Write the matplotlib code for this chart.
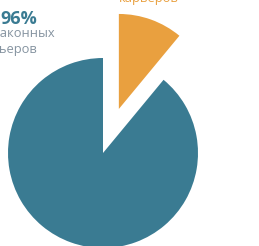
import matplotlib.pyplot as plt

# доли карьеров (по углам секторов на картинке)
labels = ['незаконных карьеров', 'законных карьеров']
sizes = [89, 11]
colors = ['#3a7b92', '#e9a03f']
explode = [0, 46.8]  # в единицах данных (пиксели)

plt.rcParams['font.family'] = ['Open Sans', 'DejaVu Sans']

fig = plt.figure(figsize=(2.59, 2.46), dpi=100)
ax = fig.add_axes([0, 0, 1, 1])
ax.pie(sizes, colors=colors, explode=explode, startangle=90,
       center=(103, 93), radius=95, wedgeprops={'linewidth': 0})
ax.set_xlim(0, 259)
ax.set_ylim(0, 246)
ax.set_aspect('equal')
ax.axis('off')

# подписи
ax.text(37, 222, '96%', ha='right', va='baseline', fontsize=13,
        fontweight='bold', color='#3a7b92')
ax.text(55, 209, 'незаконных', ha='right', va='baseline', fontsize=9.3,
        color='#8593a0')
ax.text(38, 193, 'карьеров', ha='right', va='baseline', fontsize=9.3,
        color='#8593a0')
ax.text(149, 260, 'законных', ha='center', va='baseline', fontsize=9.3,
        color='#e9a03f')
ax.text(149, 244, 'карьеров', ha='center', va='baseline', fontsize=9.3,
        color='#e9a03f')

plt.savefig('out.png', dpi=100)
